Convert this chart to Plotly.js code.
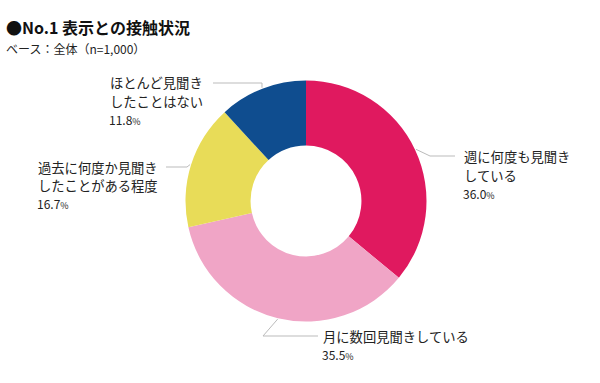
<!DOCTYPE html>
<html><head><meta charset="utf-8">
<script src="https://cdn.plot.ly/plotly-3.0.1.min.js"></script>
<style>html,body{margin:0;padding:0;background:#fff}#chart{width:600px;height:383px}</style>
</head><body><div id="chart"></div>
<script>
const categories = [["週に何度も見聞き", "している"], ["月に数回見聞きしている"], ["過去に何度か見聞き", "したことがある程度"], ["ほとんど見聞き", "したことはない"]];
const values = [36.0, 35.5, 16.7, 11.8];
const colors = ["#E0195F", "#F0A5C6", "#E8DC58", "#0F4D8F"];

const W = 600, H = 383;
const CX = 306, CY = 201, R = 120.5;
const FONT = "'Noto Sans CJK JP', 'Noto Sans', sans-serif";
// label layout (pixels): elbow, line end, text left x, first line center y
const labelLayout = [
  {elbow:[430,156], end:[455,156], tx:463, ty:157},
  {elbow:[263,336], end:[318,336], tx:322, ty:336},
  {elbow:[187,167], end:[166,167], tx:37, ty:167},
  {elbow:[262,83], end:[213,83], tx:109, ty:83}
];
const PITCH = 18.2;
const px = x => x / W, py = y => 1 - y / H;

const total = values.reduce((a,b)=>a+b,0);
let cum = 0;
const shapes = [], annotations = [];
values.forEach((v,i)=>{
  const mid = (cum + v/2) / total * 2*Math.PI; cum += v;
  const sx = CX + (R+1)*Math.sin(mid), sy = CY - (R+1)*Math.cos(mid);
  const L = labelLayout[i];
  shapes.push({type:'path', xref:'paper', yref:'paper',
    path:`M${px(sx)},${py(sy)} L${px(L.elbow[0])},${py(L.elbow[1])} L${px(L.end[0])},${py(L.end[1])}`,
    line:{color:'#BBBBBB', width:1}});
  const lines = categories[i];
  lines.forEach((t,k)=>{
    annotations.push({xref:'paper', yref:'paper', x:px(L.tx), y:py(L.ty + k*PITCH), xanchor:'left', yanchor:'middle',
      showarrow:false, borderpad:0, text:t, font:{family:FONT, size:13.3, color:'#222'}});
  });
  annotations.push({xref:'paper', yref:'paper', x:px(L.tx-1), y:py(L.ty + lines.length*PITCH), xanchor:'left', yanchor:'middle',
    showarrow:false, borderpad:0, text:`${v.toFixed(1)}<span style="font-size:9px">%</span>`,
    font:{family:FONT, size:12, color:'#222'}});
});
annotations.push({xref:'paper', yref:'paper', x:px(4), y:py(27), xanchor:'left', yanchor:'middle', showarrow:false,
  text:'<b>●No.1 表示との接触状況</b>', font:{family:FONT, size:16, color:'#111'}});
annotations.push({xref:'paper', yref:'paper', x:px(4), y:py(49), xanchor:'left', yanchor:'middle', showarrow:false,
  text:'ベース：全体（n=1,000）', font:{family:FONT, size:12, color:'#222'}});

const data = [{
  type:'pie', values: values, labels: categories.map(c=>c.join('')), hole: 0.46, sort:false, direction:'clockwise', rotation:0,
  marker:{colors: colors, line:{width:0}}, textinfo:'none', hoverinfo:'skip',
  domain:{x:[px(CX-R), px(CX+R)], y:[py(CY+R), py(CY-R)]}
}];
const layout = {width:W, height:H, margin:{l:0,r:0,t:0,b:0}, showlegend:false,
  paper_bgcolor:'#fff', shapes: shapes, annotations: annotations};
Plotly.newPlot('chart', data, layout, {staticPlot:true});
</script></body></html>
